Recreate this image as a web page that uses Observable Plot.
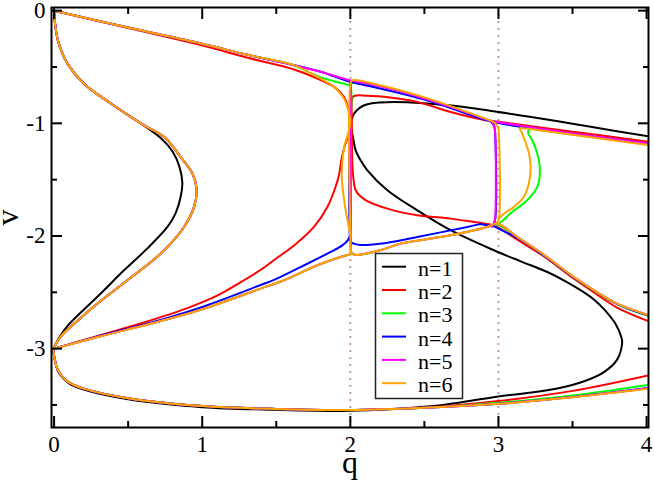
<!DOCTYPE html>
<html><head><meta charset="utf-8">
<script src="https://cdn.jsdelivr.net/npm/d3@7"></script>
<script src="https://cdn.jsdelivr.net/npm/@observablehq/plot@0.6"></script>
<style>body{margin:0;background:#fff}#chart{width:654px;height:482px}.lgtext{font-family:"Liberation Serif",serif;font-size:22px}</style>
</head><body><div id="chart"></div>
<script>
// ---- series names, colours, ticks ----
const seriesNames = ["n=1","n=2","n=3","n=4","n=5","n=6"];
const seriesColors = ["#000000","#ff0000","#00ff00","#0000ff","#ff00ff","#ffa500"];
const xTicksMajor = [0,1,2,3,4];
const xTicksMinor = [0.5,1.5,2.5,3.5];
const yTicksMajor = [0,-1,-2,-3];
const yTicksMinor = [-0.5,-1.5,-2.5,-3.5];
const refLinesX = [2,3];

// ---- curve values ([q, v]) ----
const cShared = [[0,0],[0.002,-0.05],[0.01,-0.15],[0.025,-0.26],[0.05,-0.36],[0.09,-0.47],[0.2,-0.646],[0.383,-0.824],[0.585,-1.0],[0.742,-1.12],[0.855,-1.3],[0.934,-1.446],[0.962,-1.58],[0.945,-1.742],[0.877,-1.92],[0.72,-2.156],[0.495,-2.393],[0.293,-2.6],[0.135,-2.78],[0.06,-2.87],[0.02,-2.94],[-0.002,-3.0],[-0.002,-3.04],[0.005,-3.1],[0.023,-3.18],[0.057,-3.25],[0.1,-3.3],[0.2,-3.355],[0.5,-3.44],[1,-3.51],[1.5,-3.535],[2,-3.545],[2.5,-3.525]];

const n1Curve = [[0,0],[0.002,-0.05],[0.01,-0.15],[0.025,-0.26],[0.05,-0.36],[0.09,-0.47],[0.2,-0.646],[0.383,-0.824],[0.585,-1.0],[0.72,-1.13],[0.8,-1.25],[0.845,-1.38],[0.866,-1.53],[0.855,-1.65],[0.82,-1.8],[0.765,-1.92],[0.63,-2.11],[0.472,-2.305],[0.315,-2.51],[0.18,-2.68],[0.09,-2.8],[0.04,-2.89],[0.01,-2.96],[-0.004,-3.02],[0.005,-3.1],[0.023,-3.19],[0.057,-3.258],[0.1,-3.308],[0.2,-3.364],[0.5,-3.45],[1,-3.52],[1.5,-3.543],[2,-3.552],[2.3,-3.535],[2.54,-3.512],[2.77,-3.472],[3.0,-3.425],[3.33,-3.37],[3.554,-3.3],[3.71,-3.21],[3.8,-3.1],[3.835,-2.95],[3.83,-2.9],[3.79,-2.78],[3.72,-2.66],[3.65,-2.57],[3.565,-2.49],[3.45,-2.4],[3.33,-2.32],[3.15,-2.225],[2.969,-2.127],[2.677,-1.949],[2.452,-1.772],[2.25,-1.594],[2.115,-1.417],[2.07,-1.33],[2.036,-1.24],[2.02,-1.14],[2.007,-1.05],[2.003,-1.0],[2.012,-0.95],[2.03,-0.905],[2.058,-0.869],[2.09,-0.842],[2.137,-0.824],[2.2,-0.815],[2.294,-0.81],[2.5,-0.822],[2.7,-0.845],[2.924,-0.884],[3.2,-0.94],[3.5,-1.003],[3.8,-1.07],[4.02,-1.118]];

const n2Bottom = [[3.0,-3.465],[3.5,-3.375],[4.02,-3.235]];
const n2Left = [[0,0],[0.5,-0.155],[0.99,-0.306],[1.327,-0.425],[1.62,-0.522],[1.777,-0.602],[1.89,-0.677],[1.957,-0.765],[1.985,-0.86],[1.998,-0.95],[1.997,-1.03],[1.985,-1.11],[1.96,-1.21],[1.94,-1.32],[1.925,-1.45],[1.9,-1.565],[1.845,-1.742],[1.754,-1.92],[1.62,-2.085],[1.5,-2.2],[1.395,-2.3],[1.26,-2.41],[1.1,-2.53],[0.9,-2.64],[0.6,-2.77],[0.3,-2.885],[0,-3]];
const n2Right = [[4.02,-1.165],[3.5,-1.074],[3.0,-0.987],[2.913,-0.972],[2.677,-0.899],[2.452,-0.81],[2.227,-0.765],[2.08,-0.752],[2.03,-0.755],[2.015,-0.77],[2.01,-0.8],[2.01,-1.0],[2.012,-1.3],[2.018,-1.45],[2.036,-1.594],[2.07,-1.65],[2.115,-1.69],[2.25,-1.757],[2.452,-1.816],[2.677,-1.846],[2.834,-1.876],[2.935,-1.896],[2.99,-1.92],[3.13,-2.035],[3.3,-2.175],[3.5,-2.37],[3.667,-2.52],[3.8,-2.635],[4.02,-2.76]];

const n3Bottom = [[3.0,-3.48],[3.5,-3.415],[4.02,-3.32]];
const n3Left = [[0,0],[0.5,-0.15],[1.0,-0.294],[1.3,-0.39],[1.62,-0.484],[1.72,-0.548],[1.79,-0.588],[1.85,-0.612],[1.93,-0.64],[1.99,-0.662],[2.003,-0.68],[2.003,-1.0],[2.003,-2.1]];
const n3TopRight = [[2.003,-0.64],[2.2,-0.67],[2.5,-0.775],[2.8,-0.91],[2.93,-0.97],[3.1,-1.02],[3.217,-1.045],[3.5,-1.1],[4.02,-1.185]];
const n3Lobe = [[3.003,-1.89],[3.04,-1.85],[3.08,-1.8],[3.194,-1.683],[3.262,-1.565],[3.28,-1.416],[3.262,-1.268],[3.228,-1.15],[3.2,-1.085],[3.205,-1.06],[3.225,-1.05]];
const n3LowerRight = [[2.003,-2.1],[2.01,-2.15],[2.047,-2.168],[2.2,-2.127],[2.34,-2.068],[2.677,-1.994],[2.924,-1.92],[2.99,-1.9],[3.13,-2.015],[3.3,-2.165],[3.5,-2.36],[3.8,-2.605],[4.02,-2.712]];

const n4Bottom = [[3.0,-3.49],[3.5,-3.43],[4.02,-3.348]];
const n4Top = [[0,0],[0.5,-0.15],[1.0,-0.294],[1.3,-0.39],[1.62,-0.484],[1.8,-0.543],[2.0,-0.632],[2.2,-0.691],[2.5,-0.79],[2.88,-0.957],[2.95,-0.985],[3.2,-1.04],[3.6,-1.11],[4.02,-1.18]];
const n4Lower = [[0,-3],[0.3,-2.89],[0.72,-2.745],[1.0,-2.63],[1.395,-2.435],[1.485,-2.39],[1.665,-2.275],[1.845,-2.156],[1.946,-2.083],[1.985,-2.035],[2.0,-1.98]];
const n4Vert = [[2.0,-0.632],[2.0,-2.04],[2.006,-2.058],[2.024,-2.068],[2.07,-2.08],[2.2,-2.07],[2.452,-2.009],[2.79,-1.92],[2.88,-1.896],[2.924,-1.905],[2.96,-1.91],[3.0,-1.935],[3.13,-2.02],[3.3,-2.165],[3.5,-2.36],[3.8,-2.603],[4.02,-2.71]];
const n4Vert3 = [[2.95,-0.985],[2.972,-1.03],[2.978,-1.1],[2.978,-1.85],[2.965,-1.9]];

const n5Bottom = [[3.0,-3.49],[3.5,-3.43],[4.02,-3.35]];
const n5Top = [[0,0],[0.5,-0.15],[1.0,-0.294],[1.3,-0.39],[1.62,-0.484],[1.8,-0.543],[1.99,-0.617],[2.003,-0.62],[2.2,-0.672],[2.5,-0.78],[2.8,-0.91],[2.935,-0.972],[3.1,-1.01],[3.5,-1.09],[4.02,-1.18]];
const n5Vert2 = [[2.003,-0.63],[2.003,-2.16]];
const n5Vert3 = [[2.935,-0.972],[2.965,-1.0],[2.976,-1.06],[2.98,-1.15],[2.98,-1.8],[2.975,-1.87],[2.958,-1.92]];

const n6Bottom = [[3.0,-3.49],[3.5,-3.432],[4.02,-3.355]];
const n6Left = [[0,0],[0.5,-0.15],[1.0,-0.294],[1.3,-0.39],[1.62,-0.484],[1.777,-0.588],[1.89,-0.677],[1.957,-0.78],[1.985,-0.88],[1.998,-0.96],[1.995,-1.04],[1.98,-1.11],[1.96,-1.2],[1.945,-1.35],[1.943,-1.5],[1.955,-1.65],[1.972,-1.8],[1.99,-1.92],[2.003,-2.0]];
const n6Lower = [[0,-3],[0.3,-2.895],[0.72,-2.755],[1.0,-2.65],[1.395,-2.467],[1.552,-2.393],[1.777,-2.26],[1.934,-2.187],[1.98,-2.17],[2.003,-2.16]];
const n6Vert = [[2.003,-2.16],[2.003,-0.64],[2.015,-0.618],[2.2,-0.662],[2.5,-0.77],[2.8,-0.905],[2.924,-0.965],[2.975,-0.995],[2.998,-1.04],[3.003,-1.1],[3.003,-1.846],[2.99,-1.89]];
const n6LowerRight = [[2.003,-2.12],[2.01,-2.155],[2.024,-2.165],[2.047,-2.168],[2.2,-2.127],[2.34,-2.068],[2.677,-1.994],[2.924,-1.92],[2.99,-1.89],[3.13,-2.01],[3.3,-2.16],[3.5,-2.355],[3.667,-2.5],[3.8,-2.6],[4.02,-2.705]];
const n6Lobe = [[3.003,-1.846],[3.05,-1.79],[3.104,-1.742],[3.171,-1.654],[3.205,-1.535],[3.217,-1.387],[3.208,-1.28],[3.194,-1.21],[3.16,-1.09],[3.145,-1.046],[3.165,-1.043],[3.3,-1.065],[3.6,-1.12],[4.02,-1.195]];

// ---- segment table (built from the arrays above) ----
const segments = [
  ["n=1", n1Curve],
  ["n=2", cShared.concat(n2Bottom)], ["n=2", n2Left], ["n=2", n2Right],
  ["n=3", cShared.concat(n3Bottom)], ["n=3", n3Left], ["n=3", n6Lower], ["n=3", n3TopRight], ["n=3", n3Lobe], ["n=3", n3LowerRight],
  ["n=4", cShared.concat(n4Bottom)], ["n=4", n4Top], ["n=4", n4Lower], ["n=4", n4Vert], ["n=4", n4Vert3],
  ["n=5", cShared.concat(n5Bottom)], ["n=5", n5Top], ["n=5", n6Lower], ["n=5", n5Vert2], ["n=5", n5Vert3], ["n=5", n6LowerRight],
  ["n=6", cShared.concat(n6Bottom)], ["n=6", n6Left], ["n=6", n6Lower], ["n=6", n6Vert], ["n=6", n6LowerRight], ["n=6", n6Lobe]
];
const rows = segments.flatMap(([n, pts], i) => pts.map(([x, y]) => ({n, seg: i, x, y})));

const font = "'Liberation Serif', 'Times New Roman', serif";
const axisCommon = {label: null, strokeWidth: 2};

const plot = Plot.plot({
  width: 654, height: 482,
  marginLeft: 51, marginRight: 6, marginTop: 7, marginBottom: 55,
  x: {domain: [-0.0175, 4.013]},
  y: {domain: [-3.70, 0.028]},
  style: {fontFamily: font, background: "white", color: "black"},
  marks: [
    Plot.ruleX(refLinesX, {stroke: "#c99c9c", strokeWidth: 2, strokeDasharray: "2,5"}),
    ...seriesNames.map((s, i) => Plot.line(rows.filter(r => r.n === s),
      {x: "x", y: "y", z: "seg", stroke: seriesColors[i], strokeWidth: 2, curve: "catmull-rom", clip: true})),
    Plot.frame({stroke: "black", strokeWidth: 2}),
    // inward ticks on all four sides
    Plot.axisX(xTicksMajor, {...axisCommon, anchor: "bottom", tickSize: -11, tickFormat: () => ""}),
    Plot.axisX(xTicksMinor, {...axisCommon, anchor: "bottom", tickSize: -6, tickFormat: () => ""}),
    Plot.axisX(xTicksMajor, {...axisCommon, anchor: "top", tickSize: -11, tickFormat: () => ""}),
    Plot.axisX(xTicksMinor, {...axisCommon, anchor: "top", tickSize: -6, tickFormat: () => ""}),
    Plot.axisY(yTicksMajor, {...axisCommon, anchor: "left", tickSize: -11, tickFormat: () => ""}),
    Plot.axisY(yTicksMinor, {...axisCommon, anchor: "left", tickSize: -6, tickFormat: () => ""}),
    Plot.axisY(yTicksMajor, {...axisCommon, anchor: "right", tickSize: -11, tickFormat: () => ""}),
    Plot.axisY(yTicksMinor, {...axisCommon, anchor: "right", tickSize: -6, tickFormat: () => ""}),
    // tick labels
    Plot.axisX(xTicksMajor, {label: null, anchor: "bottom", tickSize: 0, tickPadding: 8, fontSize: 23, tickFormat: d => String(d)}),
    Plot.axisY(yTicksMajor, {label: null, anchor: "left", tickSize: 0, tickPadding: 6, fontSize: 23, tickFormat: d => String(d)}),
    // axis titles
    Plot.text(["q"], {frameAnchor: "bottom", text: d => d, dy: 35, lineAnchor: "middle", textAnchor: "middle", fontSize: 32}),
    Plot.text(["v"], {frameAnchor: "left", text: d => d, dx: -44, rotate: -90, lineAnchor: "middle", textAnchor: "middle", fontSize: 32})
  ]
});

// legend inside the plot area
const svg = d3.select(plot);
const lg = svg.append("g");
lg.append("rect").attr("x", 375.5).attr("y", 253.5).attr("width", 87).attr("height", 145)
  .attr("fill", "white").attr("stroke", "#222").attr("stroke-width", 1.5);
seriesNames.forEach((s, i) => {
  const yy = 266.7 + i * 23.3;
  lg.append("line").attr("x1", 382).attr("x2", 406).attr("y1", yy).attr("y2", yy)
    .attr("stroke", seriesColors[i]).attr("stroke-width", 2);
  lg.append("text").attr("class", "lgtext").attr("x", 418).attr("y", yy + 9)
    .style("text-anchor", "start").style("font-family", "'Liberation Serif', serif").style("font-size", "22px")
    .attr("fill", "black").text(s);
});

document.getElementById("chart").appendChild(plot);
</script></body></html>
